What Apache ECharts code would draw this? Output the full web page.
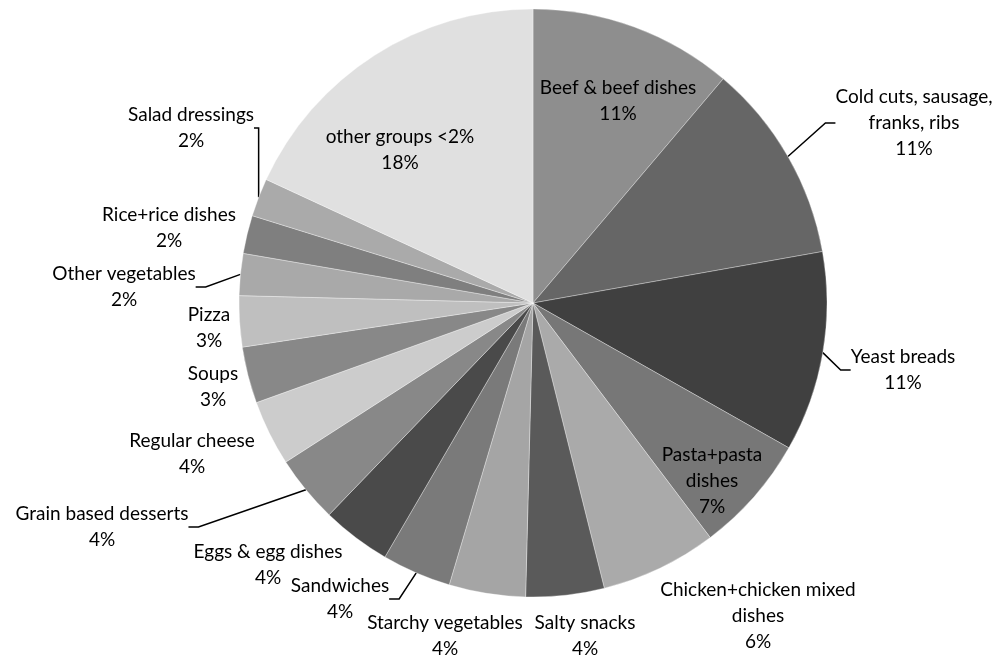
<!DOCTYPE html>
<html>
<head>
<meta charset="utf-8">
<script src="https://cdn.jsdelivr.net/npm/echarts@6/dist/echarts.min.js"></script>
<style>
html,body{margin:0;padding:0;background:#fff;}
#chart{width:1000px;height:655px;}
</style>
</head>
<body>
<div id="chart"></div>
<script>
// ---- data ----
const categories = [
  "Beef & beef dishes", "Cold cuts, sausage, franks, ribs", "Yeast breads",
  "Pasta+pasta dishes", "Chicken+chicken mixed dishes", "Salty snacks",
  "Starchy vegetables", "Sandwiches", "Eggs & egg dishes",
  "Grain based desserts", "Regular cheese", "Soups", "Pizza",
  "Other vegetables", "Rice+rice dishes", "Salad dressings", "other groups <2%"
];
const values = [11.2, 11.0, 11.0, 6.5, 6.4, 4.3, 4.2, 3.8, 3.8, 3.7, 3.6, 3.1, 2.8, 2.3, 2.1, 2.1, 18.1];

// ---- styles / layout ----
const colors = ["#8e8e8e", "#666666", "#404040", "#777777", "#aaaaaa", "#5a5a5a",
  "#a5a5a5", "#7a7a7a", "#4a4a4a", "#888888", "#cccccc", "#888888", "#bfbfbf",
  "#a9a9a9", "#7f7f7f", "#aaaaaa", "#e0e0e0"];
const lineBreaks = {
  "Cold cuts, sausage, franks, ribs": "Cold cuts, sausage,\nfranks, ribs",
  "Pasta+pasta dishes": "Pasta+pasta\ndishes",
  "Chicken+chicken mixed dishes": "Chicken+chicken mixed\ndishes"
};
// label block centers (text placement)
const labelCenters = [
  [618, 101], [914, 123], [903, 370], [712, 481], [758, 616], [585, 636],
  [445, 636], [340, 599], [268, 565], [102, 527], [192, 454], [213, 387],
  [209, 328], [124, 287], [169, 228], [191, 128], [400, 150]
];
const withLine = new Set(["Cold cuts, sausage, franks, ribs", "Yeast breads", "Sandwiches",
  "Grain based desserts", "Other vegetables", "Salad dressings"]);
const insideLabels = new Set(["Beef & beef dishes", "Pasta+pasta dishes", "other groups <2%"]);

const chart = echarts.init(document.getElementById('chart'), null, {renderer: 'canvas'});
const data = categories.map((c, i) => ({
  name: c,
  value: values[i],
  itemStyle: {color: colors[i]},
  label: {position: insideLabels.has(c) ? 'inside' : 'outside'},
  labelLine: {show: withLine.has(c)}
}));

chart.setOption({
  animation: false,
  backgroundColor: '#ffffff',
  series: [{
    type: 'pie',
    center: [533, 303],
    radius: [0, 294],
    startAngle: 90,
    clockwise: true,
    percentPrecision: 0,
    avoidLabelOverlap: false,
    itemStyle: {borderColor: 'rgba(255,255,255,0.55)', borderWidth: 0.6},
    label: {
      show: true,
      color: '#000',
      fontFamily: 'Lato, "Open Sans", sans-serif',
      fontSize: 19,
      lineHeight: 26,
      align: 'center',
      formatter: p => (lineBreaks[p.name] || p.name) + '\n' + p.percent + '%'
    },
    labelLine: {lineStyle: {color: '#000', width: 1.5}, length: 10, length2: 10, smooth: false},
    labelLayout: function (params) {
      const pos = labelCenters[params.dataIndex];
      return {x: pos[0], y: pos[1], align: 'center', verticalAlign: 'middle'};
    },
    emphasis: {disabled: true},
    data: data
  }]
});
</script>
</body>
</html>
